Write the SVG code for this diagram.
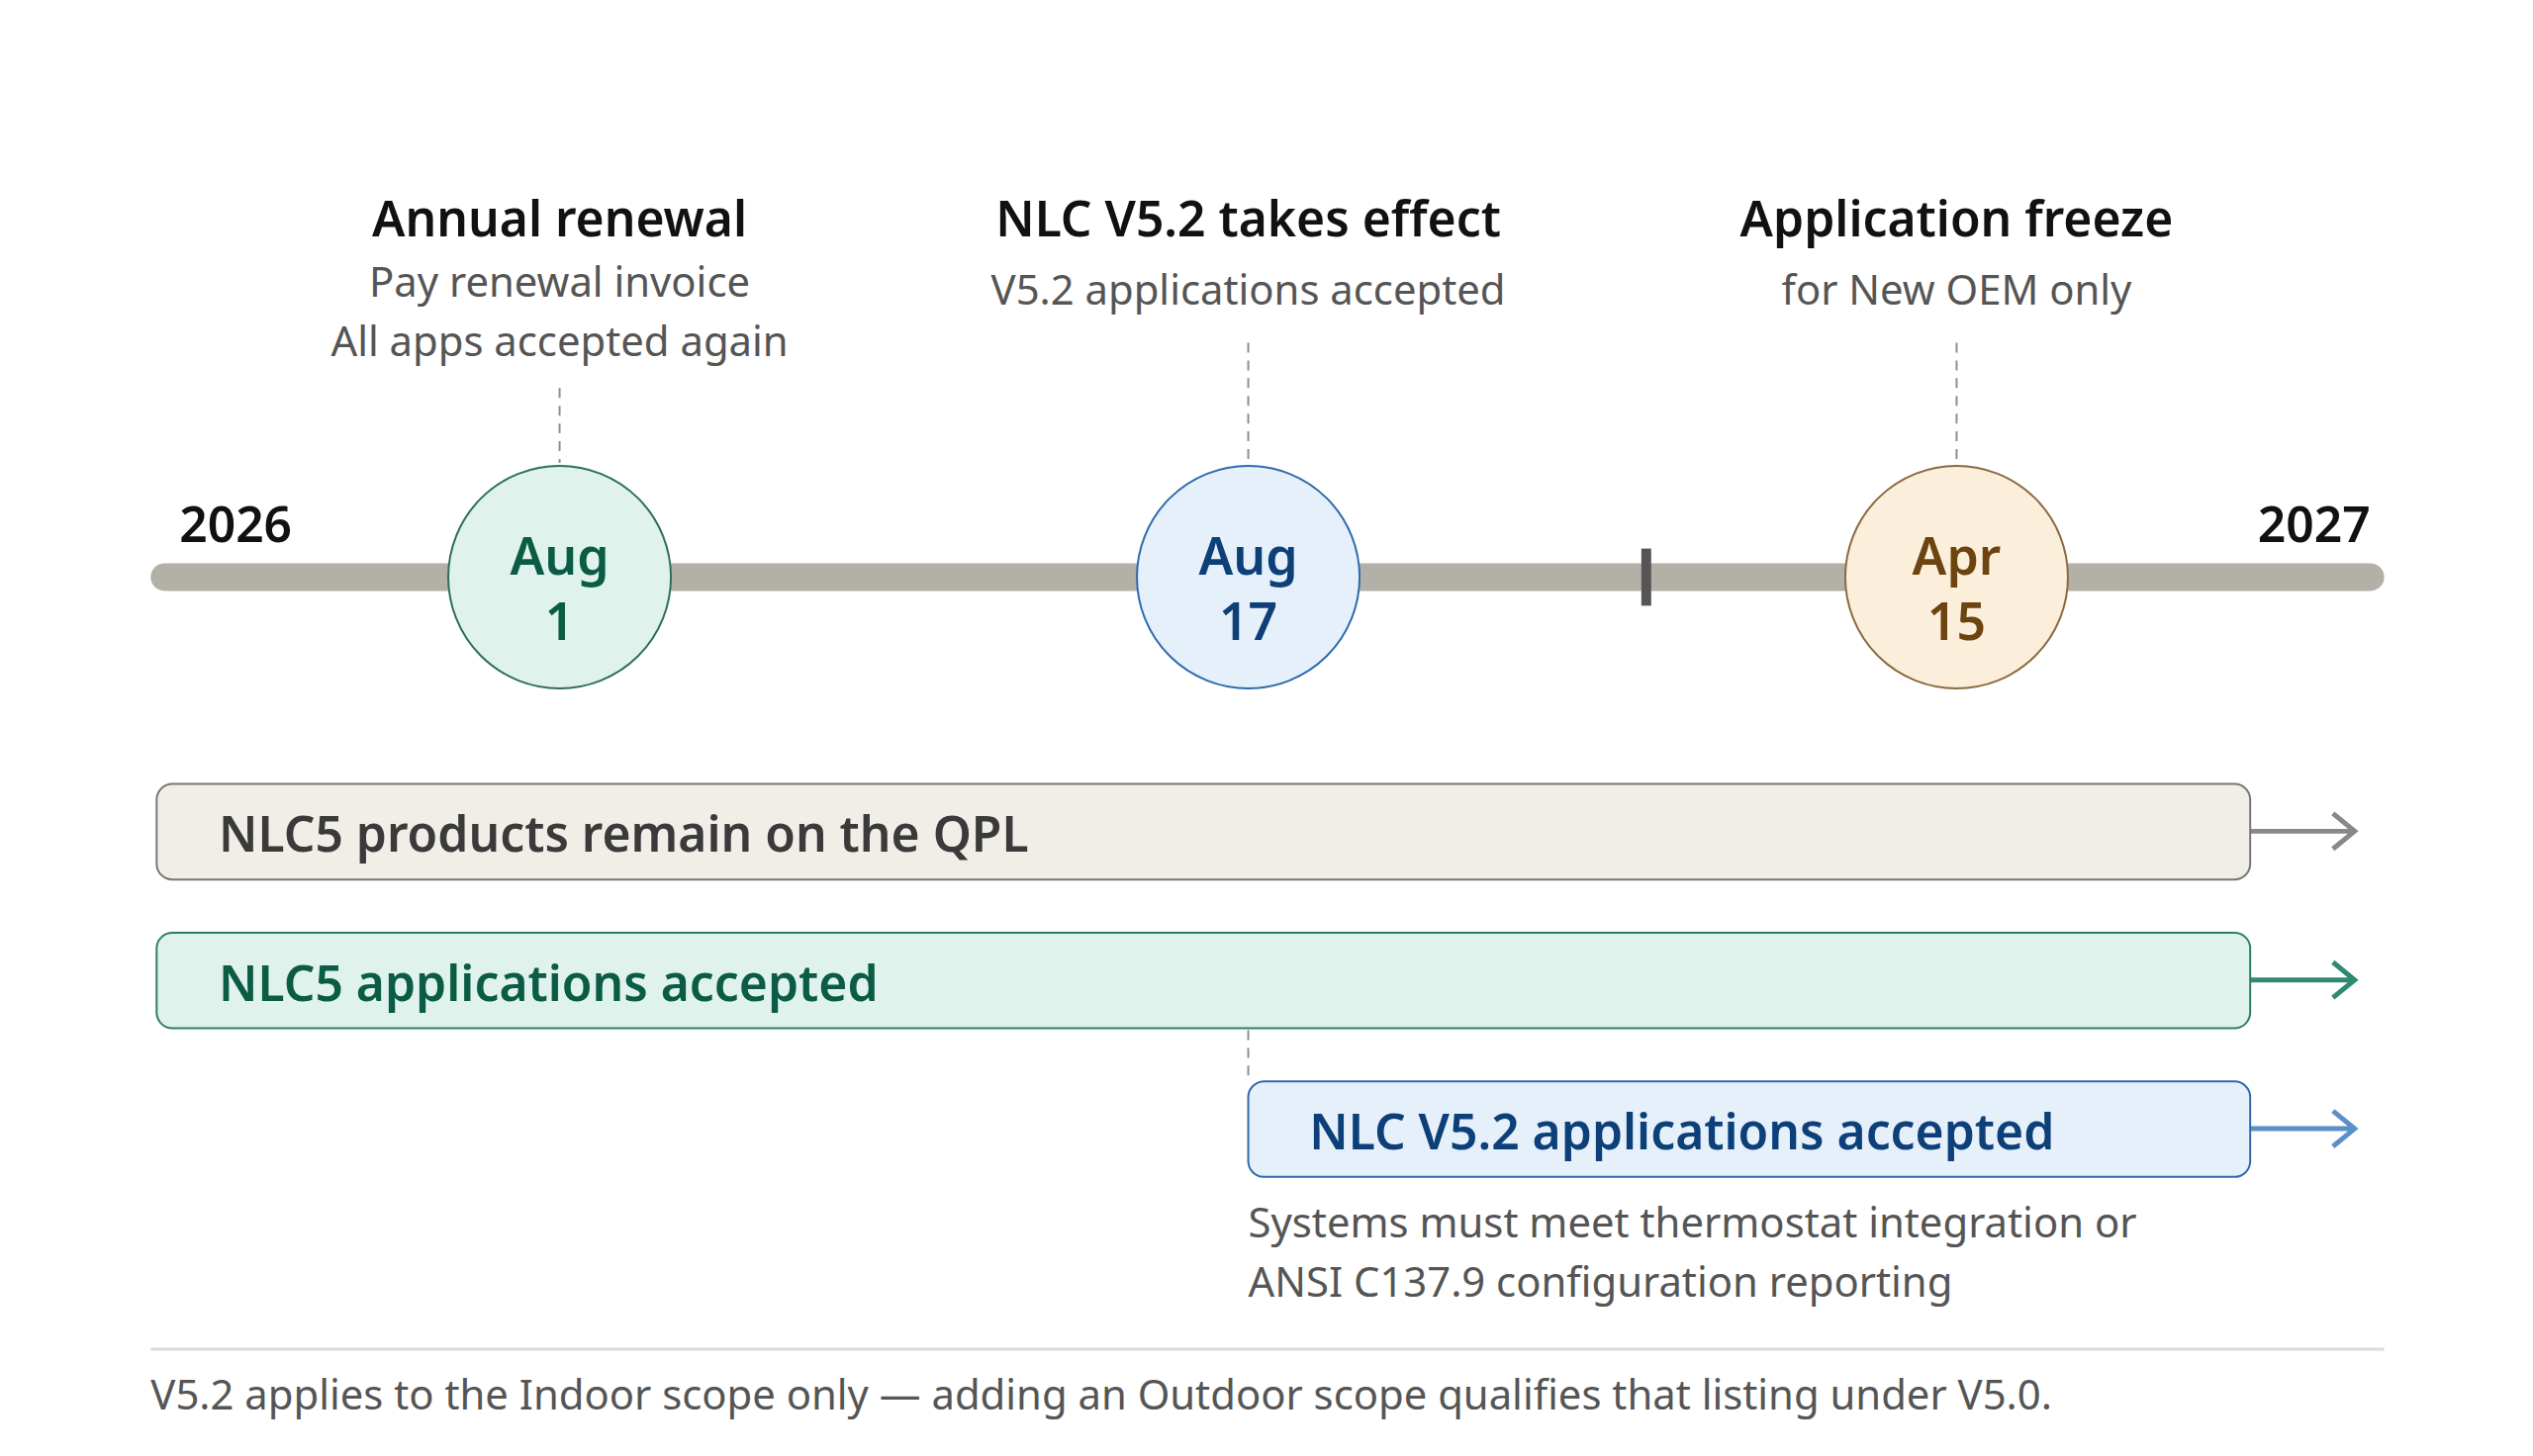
<svg xmlns="http://www.w3.org/2000/svg" width="2560" height="1472" viewBox="0 0 2560 1472">
<style>
text{font-family:"Noto Sans","Open Sans",sans-serif}
.h{font-size:50px;font-weight:600;fill:#111;text-anchor:middle}
.s{font-size:42px;fill:#555;text-anchor:middle}
.yr{font-size:50px;font-weight:600;fill:#111}
.d{font-size:52px;font-weight:600;text-anchor:middle}
.b{font-size:50px;font-weight:600}
.n{font-size:42px;fill:#555}
.dash{stroke:#8a8f96;stroke-width:2;stroke-dasharray:10 8}
</style>
<rect width="2560" height="1472" fill="#fff"/>
<g transform="scale(0.9957)">
<line x1="167" y1="586" x2="2406" y2="586" stroke="#b3b0a8" stroke-width="28" stroke-linecap="round"/>
<rect x="1666" y="557" width="10" height="58" fill="#555"/>
<text class="yr" x="182" y="550">2026</text>
<text class="yr" x="2406" y="550" text-anchor="end">2027</text>
<g id="connectors">
<line class="dash" x1="568" y1="394" x2="568" y2="470"/>
<line class="dash" x1="1267" y1="348" x2="1267" y2="472"/>
<line class="dash" x1="1986" y1="348" x2="1986" y2="472"/>
<line class="dash" x1="1267" y1="1046" x2="1267" y2="1092"/>
<path d="M2284 844 H2390 M2368 826 L2390 844 L2368 862" fill="none" stroke="#888" stroke-width="5"/>
<path d="M2284 995 H2390 M2368 977 L2390 995 L2368 1013" fill="none" stroke="#2e8a72" stroke-width="5"/>
<path d="M2284 1146 H2390 M2368 1128 L2390 1146 L2368 1164" fill="none" stroke="#5b8fc7" stroke-width="5"/>
</g>
<g id="m1">
<text class="h" x="568" y="240">Annual renewal</text>
<text class="s" x="568" y="301">Pay renewal invoice</text>
<text class="s" x="568" y="362">All apps accepted again</text>
<circle cx="568" cy="586" r="113" fill="#e0f2ec" stroke="#2e6e5c" stroke-width="2"/>
<text class="d" x="568" y="584" fill="#0b5c45">Aug</text>
<text class="d" x="568" y="650" fill="#0b5c45">1</text>
</g>
<g id="m2">
<text class="h" x="1267" y="240">NLC V5.2 takes effect</text>
<text class="s" x="1267" y="309">V5.2 applications accepted</text>
<circle cx="1267" cy="586" r="113" fill="#e5f0fb" stroke="#2f6aad" stroke-width="2"/>
<text class="d" x="1267" y="584" fill="#0d3f78">Aug</text>
<text class="d" x="1267" y="650" fill="#0d3f78">17</text>
</g>
<g id="m3">
<text class="h" x="1986" y="240">Application freeze</text>
<text class="s" x="1986" y="309">for New OEM only</text>
<circle cx="1986" cy="586" r="113" fill="#fbeedb" stroke="#8a6a3f" stroke-width="2"/>
<text class="d" x="1986" y="584" fill="#6b4410">Apr</text>
<text class="d" x="1986" y="650" fill="#6b4410">15</text>
</g>
<g id="bar1">
<rect x="159" y="796" width="2125" height="97" rx="16" fill="#f1eee8" stroke="#777" stroke-width="2"/>
<text class="b" x="222" y="865" fill="#3a3a3a">NLC5 products remain on the QPL</text>
</g>
<g id="bar2">
<rect x="159" y="947" width="2125" height="97" rx="16" fill="#e0f2ec" stroke="#2e7d6a" stroke-width="2"/>
<text class="b" x="222" y="1016" fill="#0b5c45">NLC5 applications accepted</text>
</g>
<g id="bar3">
<rect x="1267" y="1098" width="1017" height="97" rx="16" fill="#e5f0fb" stroke="#2f6aad" stroke-width="2"/>
<text class="b" x="1329" y="1167" fill="#0d3f78">NLC V5.2 applications accepted</text>
</g>
<g id="note">
<text class="n" x="1267" y="1256">Systems must meet thermostat integration or</text>
<text class="n" x="1267" y="1317">ANSI C137.9 configuration reporting</text>
</g>
<line x1="153" y1="1370" x2="2420" y2="1370" stroke="#dddbd5" stroke-width="3"/>
<text class="n" x="153" y="1431">V5.2 applies to the Indoor scope only — adding an Outdoor scope qualifies that listing under V5.0.</text>
</g>
</svg>
